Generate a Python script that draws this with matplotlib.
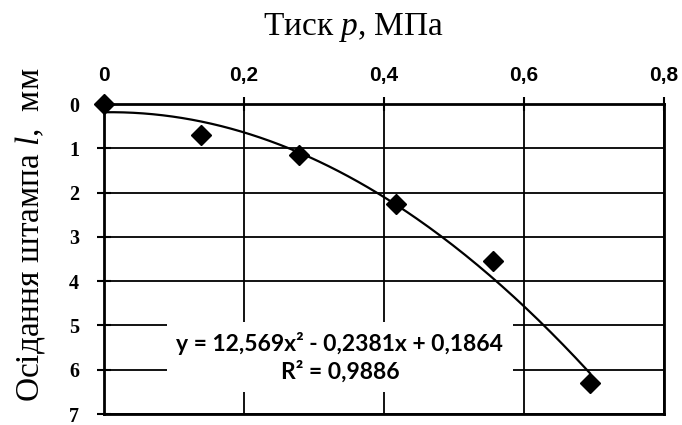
import numpy as np
import matplotlib
matplotlib.use("Agg")
import matplotlib.pyplot as plt
from matplotlib.ticker import FixedLocator, FuncFormatter

# Data
pressure = [0.0, 0.139, 0.278, 0.417, 0.556, 0.694]
settlement = [0.0, 0.70, 1.16, 2.26, 3.55, 6.30]
fit_coeffs = [12.569, -0.2381, 0.1864]
x_ticks = [0, 0.2, 0.4, 0.6, 0.8]
y_ticks = [0, 1, 2, 3, 4, 5, 6, 7]
title_text = "Тиск $\\mathit{p}$, МПа"
ylabel_text = "Осідання штампа $\\mathit{l}$,  мм"
eq_text = "y = 12,569x² - 0,2381x + 0,1864\nR² = 0,9886"

plt.rcParams['mathtext.fontset'] = 'custom'
plt.rcParams['mathtext.rm'] = 'Liberation Serif'
plt.rcParams['mathtext.it'] = 'Liberation Serif:italic'

fig = plt.figure(figsize=(6.82, 4.25), dpi=100)
L, R, T, B = 104, 664, 104, 414
ax = fig.add_axes([L / 682, 1 - B / 425, (R - L) / 682, (B - T) / 425])

ax.set_xlim(0, 0.8)
ax.set_ylim(7, 0)

ax.grid(True, color='black', linewidth=1.3)
ax.set_axisbelow(True)
for s in ax.spines.values():
    s.set_linewidth(2.0)
    s.set_color('black')

ax.xaxis.set_major_locator(FixedLocator(x_ticks))
ax.yaxis.set_major_locator(FixedLocator(y_ticks))
ax.xaxis.set_major_formatter(FuncFormatter(lambda v, p: ('%g' % v).replace('.', ',')))
ax.yaxis.set_major_formatter(FuncFormatter(lambda v, p: '%d' % v))
ax.xaxis.tick_top()
ax.tick_params(axis='x', direction='inout', length=10, width=1.5, pad=9,
               labelsize=15)
ax.tick_params(axis='y', direction='inout', length=10, width=1.5, pad=13,
               labelsize=14.5)
for lab in ax.get_xticklabels():
    lab.set_fontfamily('Liberation Sans')
    lab.set_fontweight('bold')
for lab in ax.get_yticklabels():
    lab.set_fontfamily('Liberation Serif')
    lab.set_fontweight('bold')

# trend line
xs = np.linspace(0, pressure[-1], 200)
ys = np.polyval(fit_coeffs, xs)
ax.plot(xs, ys, color='black', linewidth=1.6, zorder=3)

ax.plot(pressure, settlement, linestyle='none', marker='D', markersize=10,
        color='black', clip_on=False, zorder=4)

ax.text(0.337, 5.72, eq_text, ha='center', va='center', fontsize=16.5,
        family='Lato', fontweight='bold', linespacing=1.3, zorder=3,
        bbox=dict(facecolor='white', edgecolor='none', pad=7))

fig.text(354 / 682, 1 - 28 / 425, title_text, ha='center', va='center',
         fontsize=24, family='Liberation Serif')
fig.text(30 / 682, 1 - 235 / 425, ylabel_text, ha='center', va='center',
         rotation=90, fontsize=24, family='Liberation Serif')

fig.savefig('out.png', dpi=100)
